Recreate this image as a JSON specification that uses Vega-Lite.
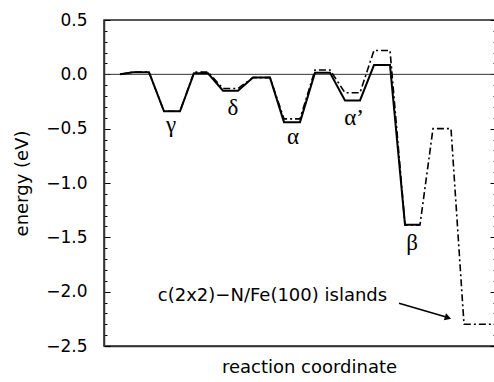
{
  "$schema": "https://vega.github.io/schema/vega-lite/v6.json",
  "width": 392,
  "height": 326,
  "autosize": {"type": "none"},
  "padding": {"left": 104, "top": 20, "right": 0, "bottom": 36},
  "background": "white",
  "config": {
    "view": {"stroke": "#222", "strokeWidth": 1.5},
    "font": "DejaVu Sans"
  },
  "datasets": {
    "solid": [
      {"x": 16, "e": 0}, {"x": 29, "e": 0.02}, {"x": 45, "e": 0.02},
      {"x": 60, "e": -0.34}, {"x": 76, "e": -0.34},
      {"x": 90, "e": 0.01}, {"x": 104, "e": 0.01},
      {"x": 119, "e": -0.15}, {"x": 134, "e": -0.15},
      {"x": 149, "e": -0.03}, {"x": 166, "e": -0.03},
      {"x": 180, "e": -0.44}, {"x": 196, "e": -0.44},
      {"x": 211, "e": 0.015}, {"x": 226, "e": 0.015},
      {"x": 241, "e": -0.24}, {"x": 256, "e": -0.24},
      {"x": 270, "e": 0.085}, {"x": 286, "e": 0.085},
      {"x": 301, "e": -1.385}, {"x": 316, "e": -1.385}
    ],
    "dashed": [
      {"x": 16, "e": 0}, {"x": 29, "e": 0.02}, {"x": 45, "e": 0.02},
      {"x": 60, "e": -0.34}, {"x": 76, "e": -0.34},
      {"x": 90, "e": 0.02}, {"x": 104, "e": 0.02},
      {"x": 119, "e": -0.13}, {"x": 134, "e": -0.13},
      {"x": 149, "e": -0.03}, {"x": 166, "e": -0.03},
      {"x": 180, "e": -0.41}, {"x": 196, "e": -0.41},
      {"x": 211, "e": 0.04}, {"x": 226, "e": 0.04},
      {"x": 241, "e": -0.17}, {"x": 256, "e": -0.17},
      {"x": 270, "e": 0.22}, {"x": 286, "e": 0.22},
      {"x": 301, "e": -1.385}, {"x": 316, "e": -1.385},
      {"x": 329, "e": -0.5}, {"x": 347, "e": -0.5},
      {"x": 360, "e": -2.3}, {"x": 392, "e": -2.3}
    ],
    "labels": [
      {"x": 67, "e": -0.47, "t": "γ"},
      {"x": 129, "e": -0.31, "t": "δ"},
      {"x": 189, "e": -0.58, "t": "α"},
      {"x": 250, "e": -0.40, "t": "α’"},
      {"x": 308, "e": -1.55, "t": "β"}
    ],
    "note": [
      {"x": 168.5, "e": -2.04, "t": "c(2x2)−N/Fe(100) islands"}
    ],
    "arrow": [
      {"x": 295, "e": -2.107, "x2": 343, "e2": -2.235}
    ],
    "head": [
      {"x": 344, "e": -2.24}
    ],
    "zero": [{"e": 0}]
  },
  "layer": [
    {
      "data": {"name": "zero"},
      "mark": {"type": "rule", "color": "#333", "strokeWidth": 1},
      "encoding": {
        "y": {
          "field": "e", "type": "quantitative",
          "scale": {"domain": [-2.5, 0.5], "nice": false, "zero": false},
          "axis": {
            "orient": "left", "title": null, "labels": false, "grid": false, "domain": false,
            "values": [-2.4, -2.3, -2.2, -2.1, -1.9, -1.8, -1.7, -1.6, -1.4, -1.3, -1.2, -1.1, -0.9, -0.8, -0.7, -0.6, -0.4, -0.3, -0.2, -0.1, 0.1, 0.2, 0.3, 0.4],
            "tickSize": -3, "tickColor": "black", "tickWidth": 1
          }
        }
      }
    },
    {
      "data": {"name": "dashed"},
      "mark": {"type": "line", "color": "black", "strokeWidth": 1.6, "strokeDash": [7, 3, 2, 3]},
      "encoding": {
        "x": {
          "field": "x", "type": "quantitative",
          "scale": {"domain": [0, 392], "nice": false, "zero": false},
          "axis": {
            "orient": "bottom", "title": "reaction coordinate", "ticks": false, "labels": false,
            "grid": false, "domainColor": "#333", "domainWidth": 1.5,
            "titleFont": "DejaVu Sans", "titleFontSize": 18, "titleFontWeight": "normal",
            "titleColor": "black", "titlePadding": 12, "titleX": 205
          }
        },
        "y": {
          "field": "e", "type": "quantitative",
          "scale": {"domain": [-2.5, 0.5], "nice": false, "zero": false},
          "axis": {
            "orient": "left", "title": "energy (eV)", "grid": false,
            "values": [-2.5, -2.0, -1.5, -1.0, -0.5, 0, 0.5],
            "format": ".1f",
            "tickSize": -6, "tickColor": "black", "tickWidth": 1,
            "domainColor": "#333", "domainWidth": 1.5,
            "labelFont": "DejaVu Sans", "labelFontSize": 17, "labelColor": "black",
            "labelPadding": 23, "labelFlush": false, "labelOverlap": false,
            "titleFont": "DejaVu Sans", "titleFontSize": 18, "titleFontWeight": "normal",
            "titleColor": "black", "titlePadding": 14
          }
        }
      }
    },
    {
      "data": {"name": "solid"},
      "mark": {"type": "line", "color": "black", "strokeWidth": 2},
      "encoding": {
        "x": {"field": "x", "type": "quantitative"},
        "y": {
          "field": "e", "type": "quantitative",
          "scale": {"domain": [-2.5, 0.5], "nice": false, "zero": false},
          "axis": {
            "orient": "right", "title": null, "labels": false, "grid": false,
            "values": [-2.5, -2.0, -1.5, -1.0, -0.5, 0, 0.5],
            "tickSize": -6, "tickColor": "black", "tickWidth": 1,
            "domainColor": "#333", "domainWidth": 1.5
          }
        }
      }
    },
    {
      "data": {"name": "labels"},
      "mark": {"type": "text", "font": "Liberation Serif", "fontSize": 23, "color": "black", "baseline": "middle", "align": "center"},
      "encoding": {
        "x": {"field": "x", "type": "quantitative"},
        "y": {
          "field": "e", "type": "quantitative",
          "axis": {
            "orient": "right", "title": null, "labels": false, "grid": false, "domain": false,
            "values": [-2.4, -2.3, -2.2, -2.1, -1.9, -1.8, -1.7, -1.6, -1.4, -1.3, -1.2, -1.1, -0.9, -0.8, -0.7, -0.6, -0.4, -0.3, -0.2, -0.1, 0.1, 0.2, 0.3, 0.4],
            "tickSize": -3, "tickColor": "black", "tickWidth": 1
          }
        },
        "text": {"field": "t"}
      }
    },
    {
      "data": {"name": "note"},
      "mark": {"type": "text", "font": "DejaVu Sans", "fontSize": 18, "color": "black", "baseline": "middle", "align": "center"},
      "encoding": {
        "x": {"field": "x", "type": "quantitative"},
        "y": {"field": "e", "type": "quantitative", "axis": null},
        "text": {"field": "t"}
      }
    },
    {
      "data": {"name": "arrow"},
      "mark": {"type": "rule", "color": "black", "strokeWidth": 1.5},
      "encoding": {
        "x": {"field": "x", "type": "quantitative"},
        "y": {"field": "e", "type": "quantitative", "axis": null},
        "x2": {"field": "x2"},
        "y2": {"field": "e2"}
      }
    },
    {
      "data": {"name": "head"},
      "mark": {"type": "point", "shape": "triangle-right", "filled": true, "color": "black", "size": 55, "angle": 17, "opacity": 1},
      "encoding": {
        "x": {"field": "x", "type": "quantitative"},
        "y": {"field": "e", "type": "quantitative", "axis": null}
      }
    }
  ],
  "resolve": {"axis": {"y": "independent"}}
}
